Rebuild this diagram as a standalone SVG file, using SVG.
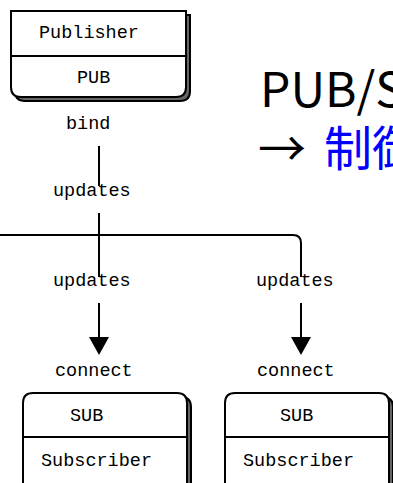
<svg xmlns="http://www.w3.org/2000/svg" width="393" height="483" viewBox="0 0 393 483">
<style>
.box{fill:#fff;stroke:#000;stroke-width:2}
.shadow{fill:#666;stroke:#000;stroke-width:2}
.div{stroke:#000;stroke-width:2;fill:none}
.lbl{font-family:"Liberation Mono",monospace;font-size:18.5px;fill:#000}
.conn{stroke:#000;stroke-width:2;fill:none}
.title{font-family:"Noto Sans CJK JP","Noto Sans",sans-serif;font-size:48px}
</style>
<rect width="393" height="483" fill="#fff"/>
<g id="connectors">
<path class="conn" d="M99,146 V186"/>
<path class="conn" d="M99,213 V277"/>
<path class="conn" d="M0,235 H293 Q301,235 301,243 V277"/>
<path class="conn" d="M99,303 V337"/>
<path d="M89,337 L109,337 L99,355 Z" fill="#000"/>
<path class="conn" d="M301,303 V337"/>
<path d="M291,337 L311,337 L301,355 Z" fill="#000"/>
</g>
<g id="publisher">
<path class="shadow" d="M15,15 H190 V91 Q190,101 180,101 H25 Q15,101 15,91 Z"/>
<path class="box" d="M11,11 H186 V87 Q186,97 176,97 H21 Q11,97 11,87 Z"/>
<path class="div" d="M11,56 H186"/>
<text class="lbl" x="39" y="38">Publisher</text>
<text class="lbl" x="77" y="83">PUB</text>
</g>
<g id="labels">
<text class="lbl" x="66" y="129">bind</text>
<text class="lbl" x="53" y="196">updates</text>
<text class="lbl" x="53" y="286">updates</text>
<text class="lbl" x="256" y="286">updates</text>
<text class="lbl" x="55" y="376">connect</text>
<text class="lbl" x="257" y="376">connect</text>
</g>
<g id="subscriber1">
<path class="shadow" d="M27,497 V407 Q27,397 37,397 H181 Q191,397 191,407 V497 Z"/>
<path class="box" d="M23,493 V403 Q23,393 33,393 H177 Q187,393 187,403 V493 Z"/>
<path class="div" d="M23,437 H187"/>
<text class="lbl" x="70" y="421">SUB</text>
<text class="lbl" x="41" y="466">Subscriber</text>
</g>
<g id="subscriber2">
<path class="shadow" d="M229,497 V407 Q229,397 239,397 H383 Q393,397 393,407 V497 Z"/>
<path class="box" d="M225,493 V403 Q225,393 235,393 H379 Q389,393 389,403 V493 Z"/>
<path class="div" d="M225,437 H389"/>
<text class="lbl" x="280" y="421">SUB</text>
<text class="lbl" x="243" y="466">Subscriber</text>
</g>
<g id="title">
<text class="title" x="260" y="107" fill="#000">PUB/S</text>
<text class="title" x="258" y="166" fill="#000">→ <tspan x="324" fill="#0000ff">制御</tspan></text>
</g>
</svg>
